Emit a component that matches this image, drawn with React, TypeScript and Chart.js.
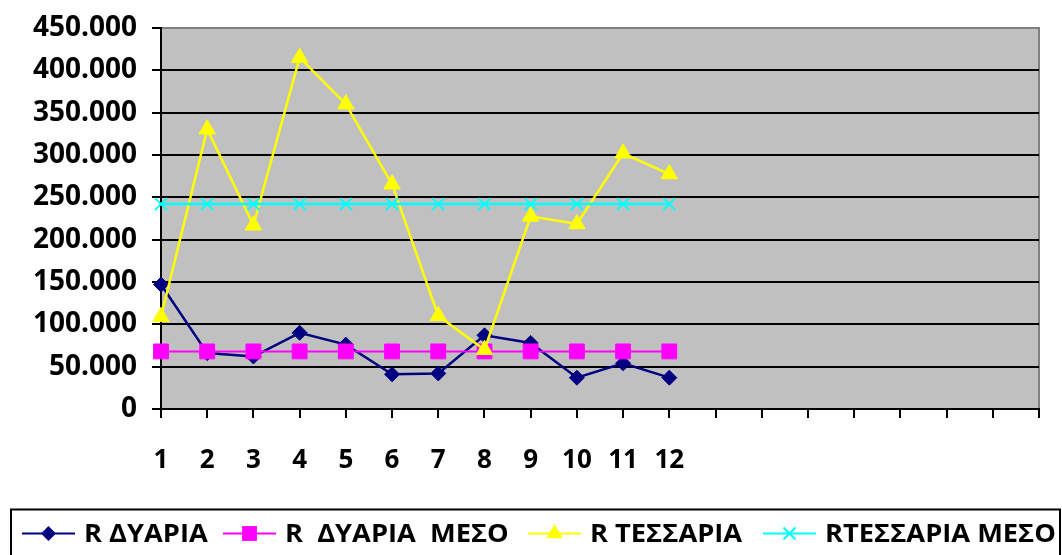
import React, { useEffect, useRef } from 'react';
import { Chart, registerables } from 'chart.js';

Chart.register(...registerables);

const categories = ['1', '2', '3', '4', '5', '6', '7', '8', '9', '10', '11', '12', '', '', '', '', '', '', '', ''];
const rDyaria = [147000, 66000, 62000, 90000, 76000, 41000, 42000, 87000, 78000, 37000, 54000, 37000];
const rDyariaMeso = [68000, 68000, 68000, 68000, 68000, 68000, 68000, 68000, 68000, 68000, 68000, 68000];
const rTessaria = [109000, 330500, 217000, 415000, 360000, 265500, 110000, 70000, 227500, 218500, 302000, 277500];
const rTessariaMeso = [242000, 242000, 242000, 242000, 242000, 242000, 242000, 242000, 242000, 242000, 242000, 242000];
const seriesNames = ['R ΔΥΑΡΙΑ', 'R  ΔΥΑΡΙΑ  ΜΕΣΟ', 'R ΤΕΣΣΑΡΙΑ', 'RΤΕΣΣΑΡΙΑ ΜΕΣΟ'];
const yMin = 0;
const yMax = 450000;
const yStep = 50000;

const FONT = '"Open Sans", sans-serif';

function fmt(v: number): string {
  if (v === 0) return '0';
  const th = Math.floor(v / 1000);
  const rest = String(Math.round(v % 1000)).padStart(3, '0');
  return th + '.' + rest;
}

function drawMarker(ctx: CanvasRenderingContext2D, style: string, x: number, y: number, r: number, color: string, bw: number) {
  ctx.save();
  ctx.fillStyle = color;
  ctx.strokeStyle = color;
  ctx.lineWidth = bw;
  ctx.beginPath();
  if (style === 'rectRot') {
    ctx.moveTo(x - r, y);
    ctx.lineTo(x, y - r);
    ctx.lineTo(x + r, y);
    ctx.lineTo(x, y + r);
    ctx.closePath();
    ctx.fill();
  } else if (style === 'rect') {
    const s = r * Math.SQRT1_2;
    ctx.rect(x - s, y - s, 2 * s, 2 * s);
    ctx.fill();
  } else if (style === 'triangle') {
    ctx.moveTo(x, y - r);
    ctx.lineTo(x + 0.866 * r, y + 0.5 * r);
    ctx.lineTo(x - 0.866 * r, y + 0.5 * r);
    ctx.closePath();
    ctx.fill();
  } else if (style === 'crossRot') {
    const d = r * Math.SQRT1_2;
    ctx.moveTo(x - d, y - d);
    ctx.lineTo(x + d, y + d);
    ctx.moveTo(x + d, y - d);
    ctx.lineTo(x - d, y + d);
    ctx.stroke();
  }
  ctx.restore();
}

const plotBg = {
  id: 'plotBg',
  beforeDraw(chart: any) {
    const { ctx, chartArea } = chart;
    const { left, top, right, bottom } = chartArea;
    ctx.save();
    ctx.fillStyle = '#C0C0C0';
    ctx.fillRect(left, top, right - left, bottom - top);
    ctx.strokeStyle = '#808080';
    ctx.lineWidth = 2;
    ctx.beginPath();
    ctx.moveTo(left, top);
    ctx.lineTo(right, top);
    ctx.lineTo(right, bottom);
    ctx.stroke();
    ctx.restore();
  },
};

const legendStarts = [22, 223, 528, 763];

const customLegend = {
  id: 'customLegend',
  afterDraw(chart: any) {
    const { ctx } = chart;
    ctx.save();
    ctx.strokeStyle = '#000';
    ctx.lineWidth = 2;
    ctx.strokeRect(11, 509.5, 1049, 80);
    const cy = 533.5;
    chart.data.datasets.forEach((ds: any, i: number) => {
      const x0 = legendStarts[i];
      ctx.strokeStyle = ds.borderColor;
      ctx.lineWidth = 2;
      ctx.beginPath();
      ctx.moveTo(x0, cy);
      ctx.lineTo(x0 + 53, cy);
      ctx.stroke();
      drawMarker(ctx, ds.pointStyle, x0 + 26.5, cy, ds.pointRadius, ds.borderColor, 2);
      ctx.save();
      ctx.fillStyle = '#000';
      ctx.font = `bold 25px ${FONT}`;
      ctx.textBaseline = 'middle';
      ctx.textAlign = 'left';
      ctx.translate(x0 + 62, cy + 1);
      ctx.scale(1.09, 1);
      ctx.fillText(ds.label, 0, 0);
      ctx.restore();
    });
    ctx.restore();
  },
};

export default function App() {
  const ref = useRef<HTMLCanvasElement | null>(null);

  useEffect(() => {
    if (!ref.current) return;
    const chart = new Chart(ref.current, {
      type: 'line',
      data: {
        labels: categories,
        datasets: [
          {
            label: seriesNames[0],
            data: rDyaria,
            borderColor: '#000080',
            backgroundColor: '#000080',
            borderWidth: 2.5,
            pointStyle: 'rectRot',
            pointRadius: 7.5,
            pointBorderWidth: 1,
            order: 4,
          },
          {
            label: seriesNames[1],
            data: rDyariaMeso,
            borderColor: '#FF00FF',
            backgroundColor: '#FF00FF',
            borderWidth: 2,
            pointStyle: 'rect',
            pointRadius: 10.5,
            pointBorderWidth: 1,
            order: 3,
          },
          {
            label: seriesNames[2],
            data: rTessaria,
            borderColor: '#FFFF00',
            backgroundColor: '#FFFF00',
            borderWidth: 2.5,
            pointStyle: 'triangle',
            pointRadius: 9.5,
            pointBorderWidth: 1,
            order: 2,
          },
          {
            label: seriesNames[3],
            data: rTessariaMeso,
            borderColor: '#00FFFF',
            backgroundColor: '#00FFFF',
            borderWidth: 2.5,
            pointStyle: 'crossRot',
            pointRadius: 8.5,
            pointBorderWidth: 2,
            order: 1,
          },
        ] as any,
      },
      options: {
        animation: false,
        responsive: true,
        maintainAspectRatio: false,
        layout: { padding: { top: 28, right: 23, left: 0, bottom: 0 } },
        plugins: {
          legend: { display: false },
          tooltip: { enabled: false },
        },
        elements: { line: { tension: 0 } },
        scales: {
          x: {
            type: 'category',
            offset: false,
            grid: {
              drawOnChartArea: false,
              drawTicks: true,
              tickLength: 9,
              color: '#000',
              lineWidth: 2,
            },
            border: { color: '#000', width: 2 },
            ticks: {
              autoSkip: false,
              maxRotation: 0,
              minRotation: 0,
              padding: 27,
              color: '#000',
              font: { family: FONT, weight: 'bold', size: 26 },
            },
            afterFit(scale: any) {
              scale.height = 146;
              scale.paddingLeft = 0;
              scale.paddingRight = 0;
            },
          },
          y: {
            min: yMin,
            max: yMax,
            grid: {
              color: (c: any) => (c.tick && c.tick.value === yMax ? 'rgba(0,0,0,0)' : '#000'),
              tickColor: '#000',
              lineWidth: 2,
              tickLength: 9,
            },
            border: { color: '#000', width: 2 },
            ticks: {
              stepSize: yStep,
              padding: 15,
              color: '#000',
              font: { family: FONT, weight: 'bold', size: 28 },
              callback: (v: any) => fmt(Number(v)),
            },
            afterFit(scale: any) {
              scale.width = 161;
              scale.paddingTop = 0;
              scale.paddingBottom = 0;
            },
          },
        },
      } as any,
      plugins: [plotBg, customLegend],
    });
    return () => chart.destroy();
  }, []);

  return (
    <div style={{ position: 'absolute', left: 0, top: 0, width: 1062, height: 555, background: '#fff' }}>
      <canvas ref={ref} />
    </div>
  );
}
